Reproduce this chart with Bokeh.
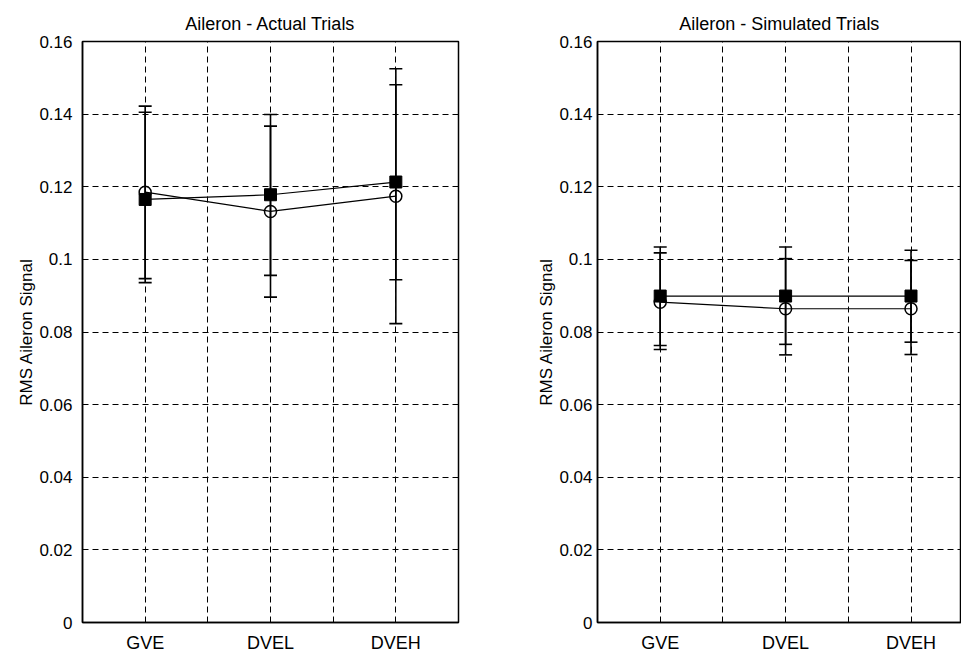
from bokeh.plotting import figure
from bokeh.models import FixedTicker, CustomJSTickFormatter, Range1d
from bokeh.layouts import row
from bokeh.embed import file_html
from bokeh.resources import INLINE

# ---------------- data ----------------
categories = ["GVE", "DVEL", "DVEH"]
cat_pos = [1, 3, 5]
x_ticks = [1, 2, 3, 4, 5]
y_ticks = [0, 0.02, 0.04, 0.06, 0.08, 0.1, 0.12, 0.14, 0.16]

actual_sq = [0.1165, 0.1178, 0.1213]
actual_sq_lo = [0.0936, 0.0956, 0.0944]
actual_sq_hi = [0.1405, 0.1399, 0.1481]
actual_ci = [0.1185, 0.1132, 0.1174]
actual_ci_lo = [0.0947, 0.0896, 0.0823]
actual_ci_hi = [0.1422, 0.1367, 0.1525]

sim_sq = [0.0899, 0.0899, 0.0899]
sim_sq_lo = [0.0763, 0.0766, 0.0772]
sim_sq_hi = [0.1034, 0.1034, 0.1025]
sim_ci = [0.0882, 0.0864, 0.0864]
sim_ci_lo = [0.0752, 0.0737, 0.0738]
sim_ci_hi = [0.1018, 0.1002, 0.0997]

FONT = "Liberation Sans"
label_map = {1: "", 2: "", 3: "", 4: "", 5: ""}
for c, xp in zip(categories, cat_pos):
    label_map[xp] = c

yfmt_code = "var s = tick.toFixed(2); s = s.replace(/0+$/, ''); s = s.replace(/\\.$/, ''); return s;"


def make_panel(title, x_end, frame_w, b_left, b_right, tick_standoff,
               sq, sq_lo, sq_hi, ci, ci_lo, ci_hi):
    p = figure(frame_width=frame_w, frame_height=581,
               x_range=Range1d(0, x_end), y_range=Range1d(0, 0.16),
               output_backend="svg", toolbar_location=None,
               min_border_left=b_left, min_border_right=b_right,
               min_border_top=41, min_border_bottom=30,
               background_fill_color="white", border_fill_color="white")
    p.title.text = title
    p.title.align = "center"
    p.title.text_font = FONT
    p.title.text_font_size = "18px"
    p.title.text_font_style = "normal"
    p.title.text_color = "black"
    p.title.standoff = 16
    p.outline_line_color = "black"
    p.outline_line_width = 1.5

    xa = p.xaxis[0]
    xa.ticker = FixedTicker(ticks=x_ticks)
    xa.major_label_overrides = label_map
    xa.major_label_text_font = FONT
    xa.major_label_text_font_size = "18px"
    xa.major_label_text_color = "black"
    xa.major_tick_in = 5
    xa.major_tick_out = 0
    xa.minor_tick_line_color = None
    xa.axis_line_width = 1.5
    xa.axis_line_color = "black"
    xa.major_tick_line_color = "black"
    xa.major_label_standoff = 10

    ya = p.yaxis[0]
    ya.ticker = FixedTicker(ticks=y_ticks)
    ya.formatter = CustomJSTickFormatter(code=yfmt_code)
    ya.major_label_text_font = FONT
    ya.major_label_text_font_size = "17px"
    ya.major_label_text_color = "black"
    ya.major_tick_in = 5
    ya.major_tick_out = 0
    ya.minor_tick_line_color = None
    ya.axis_line_width = 1.5
    ya.axis_line_color = "black"
    ya.major_tick_line_color = "black"
    ya.major_label_standoff = tick_standoff
    ya.axis_label = "RMS Aileron Signal"
    ya.axis_label_text_font = FONT
    ya.axis_label_text_font_size = "17px"
    ya.axis_label_text_font_style = "normal"
    ya.axis_label_text_color = "black"
    ya.axis_label_standoff = 0

    for g in (p.xgrid[0], p.ygrid[0]):
        g.grid_line_color = "black"
        g.grid_line_dash = "6 4"
        g.grid_line_width = 1
        g.grid_line_alpha = 1.0
    p.xgrid[0].ticker = FixedTicker(ticks=x_ticks)
    p.ygrid[0].ticker = FixedTicker(ticks=y_ticks)

    # error bars
    for lo, hi in ((sq_lo, sq_hi), (ci_lo, ci_hi)):
        p.segment(x0=cat_pos, y0=lo, x1=cat_pos, y1=hi, line_color="black", line_width=1.6)
        p.dash(x=cat_pos, y=lo, size=13, line_color="black", line_width=1.6)
        p.dash(x=cat_pos, y=hi, size=13, line_color="black", line_width=1.6)

    # series
    p.line(cat_pos, sq, line_color="black", line_width=1.2)
    p.line(cat_pos, ci, line_color="black", line_width=1.2)
    p.scatter(cat_pos, sq, marker="square", size=12, fill_color="black", line_color="black")
    p.scatter(cat_pos, ci, marker="circle", size=12, fill_color=None, line_color="black",
              line_width=1.5)
    return p


p1 = make_panel("Aileron - Actual Trials", 6.0, 376, 82, 20, 10,
                actual_sq, actual_sq_lo, actual_sq_hi, actual_ci, actual_ci_lo, actual_ci_hi)
p2 = make_panel("Aileron - Simulated Trials", 364 / 62.7, 364, 119, 0, 5,
                sim_sq, sim_sq_lo, sim_sq_hi, sim_ci, sim_ci_lo, sim_ci_hi)

layout = row(p1, p2, spacing=0)
open("out.html", "w").write(file_html(layout, INLINE))
